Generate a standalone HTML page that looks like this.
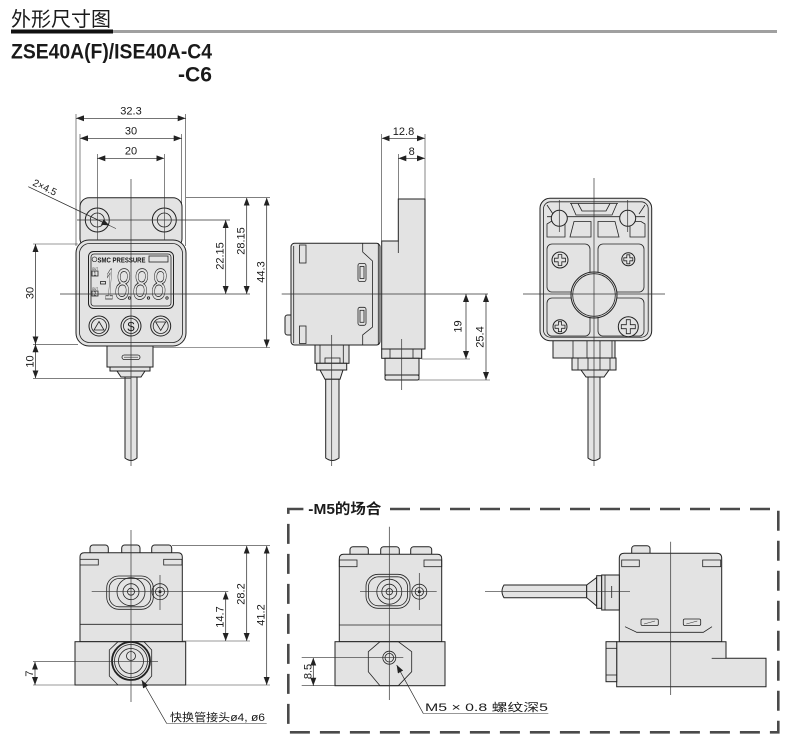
<!DOCTYPE html>
<html><head><meta charset="utf-8"><style>
html,body{margin:0;padding:0;background:#fff;width:790px;height:755px;overflow:hidden}
svg{display:block}
text{font-family:"Liberation Sans","Noto Sans CJK SC",sans-serif;fill:#1a1a1a}
.o{fill:#e3e3e3;stroke:#222;stroke-width:1}
.n{fill:none;stroke:#222;stroke-width:0.8}
.c{fill:none;stroke:#333;stroke-width:0.7}
.d{fill:none;stroke:#222;stroke-width:0.7;marker-start:url(#a);marker-end:url(#a)}
.l{fill:none;stroke:#222;stroke-width:0.7;marker-end:url(#a)}
.e{fill:none;stroke:#333;stroke-width:0.6}
.t{font-size:11px}
.lcd{fill:none;stroke:#222;stroke-width:0.8;font-style:italic}
</style></head><body>
<svg width="790" height="755" viewBox="0 0 790 755" xmlns="http://www.w3.org/2000/svg">
<defs>
<marker id="a" viewBox="0 0 8 6" refX="8" refY="3" markerWidth="8" markerHeight="6" markerUnits="userSpaceOnUse" orient="auto-start-reverse"><path d="M0,0 L8,3 L0,6 z" fill="#222"/></marker>
</defs>

<!-- Header -->
<text x="11" y="26" font-size="20" textLength="100" lengthAdjust="spacingAndGlyphs">外形尺寸图</text>
<rect x="11" y="29.5" width="102" height="4" fill="#111"/>
<rect x="113" y="30" width="664" height="3" fill="#a0a0a0"/>
<text x="11" y="58.5" font-size="21" font-weight="bold" textLength="201" lengthAdjust="spacingAndGlyphs">ZSE40A(F)/ISE40A-C4</text>
<text x="178" y="81.5" font-size="21" font-weight="bold" textLength="34" lengthAdjust="spacingAndGlyphs">-C6</text>

<!-- ===== FRONT VIEW ===== -->
<rect x="80" y="197.7" width="102" height="50" rx="9" class="o"/>
<circle cx="97.3" cy="220" r="12" class="o" stroke-width="1.5"/><circle cx="97.3" cy="220" r="7" class="n"/>
<circle cx="164.3" cy="220" r="12" class="o" stroke-width="1.5"/><circle cx="164.3" cy="220" r="7" class="n"/>
<!-- connector -->
<rect x="107" y="343" width="46" height="24" class="o"/>
<rect x="122" y="355" width="18" height="4.5" rx="2.2" class="n"/>
<line x1="124" y1="357.2" x2="138" y2="357.2" class="e"/>
<rect x="110" y="367" width="40" height="4" class="o"/>
<path d="M117,371 H145 L141,377 H121 Z" class="o"/>
<path d="M125,377 H137 V458 Q131,463 125,458 Z" class="o"/>
<!-- body -->
<rect x="76" y="240" width="110" height="106" rx="13" class="o"/>
<rect x="79.5" y="243.5" width="103" height="99" rx="10" class="n"/>
<!-- display -->
<rect x="88.5" y="251.5" width="85" height="57" rx="5" class="o"/>
<rect x="91" y="254" width="80" height="52" rx="3" class="n"/>
<circle cx="94.5" cy="259.3" r="2.4" fill="none" stroke="#222" stroke-width="0.6"/>
<text x="97.5" y="262.3" font-size="7.5" font-weight="bold" textLength="48" lengthAdjust="spacingAndGlyphs">SMC PRESSURE</text>
<rect x="149" y="256" width="19" height="6" class="n"/>
<text x="92" y="270" font-size="4" textLength="6" lengthAdjust="spacingAndGlyphs">OUT</text>
<rect x="92" y="271" width="6" height="5" class="n"/>
<text x="93.5" y="275.5" font-size="5">1</text>
<text x="92" y="290" font-size="4" textLength="6" lengthAdjust="spacingAndGlyphs">OUT</text>
<rect x="92" y="291" width="6" height="5" class="n"/>
<text x="93.5" y="295.5" font-size="5">2</text>
<rect x="100.5" y="281.5" width="5" height="2.5" class="n"/>
<text x="105" y="299" font-size="44" class="lcd" textLength="9" lengthAdjust="spacingAndGlyphs">1</text>
<text x="115" y="299" font-size="44" class="lcd" textLength="15" lengthAdjust="spacingAndGlyphs">8</text>
<text x="133" y="299" font-size="44" class="lcd" textLength="15" lengthAdjust="spacingAndGlyphs">8</text>
<text x="151.5" y="299" font-size="44" class="lcd" textLength="15" lengthAdjust="spacingAndGlyphs">8</text>
<circle cx="129.5" cy="298" r="1.2" class="n"/><circle cx="148.5" cy="298" r="1.2" class="n"/><circle cx="167" cy="298" r="1.2" class="n"/>
<!-- buttons -->
<circle cx="99" cy="326" r="10" class="o"/><circle cx="99" cy="326" r="7.5" class="n"/>
<path d="M99,321.5 L104,330 H94 Z" class="n"/>
<circle cx="131" cy="326" r="10" class="o"/><circle cx="131" cy="326" r="7.5" class="n"/>
<text x="131" y="331" font-size="13" text-anchor="middle">$</text>
<circle cx="160.7" cy="326" r="10" class="o"/><circle cx="160.7" cy="326" r="7.5" class="n"/>
<path d="M155.7,322 H165.7 L160.7,330.5 Z" class="n"/>
<!-- front centre lines -->
<line x1="131" y1="179" x2="131" y2="466" class="c"/>
<line x1="77" y1="220" x2="230" y2="220" class="c"/>
<line x1="60" y1="294" x2="250" y2="294" class="c"/>
<!-- front dims -->
<line x1="76" y1="114" x2="76" y2="246" class="e"/>
<line x1="185.7" y1="114" x2="185.7" y2="246" class="e"/>
<line x1="76" y1="118.3" x2="185.7" y2="118.3" class="d"/>
<text x="131" y="114.5" class="t" text-anchor="middle">32.3</text>
<line x1="80" y1="134" x2="80" y2="205" class="e"/>
<line x1="181.7" y1="134" x2="181.7" y2="205" class="e"/>
<line x1="80" y1="138.3" x2="181.7" y2="138.3" class="d"/>
<text x="131" y="134.5" class="t" text-anchor="middle">30</text>
<line x1="97.3" y1="154" x2="97.3" y2="240" class="e"/>
<line x1="164.3" y1="154" x2="164.3" y2="240" class="e"/>
<line x1="97.3" y1="158.3" x2="164.3" y2="158.3" class="d"/>
<text x="131" y="154.5" class="t" text-anchor="middle">20</text>
<line x1="28.3" y1="186.7" x2="109.5" y2="225.5" class="l"/>
<line x1="109.5" y1="225.5" x2="116" y2="228.6" class="e"/>
<text transform="translate(32,185) rotate(25.6)" font-size="10">2×4.5</text>
<line x1="186" y1="197.7" x2="270" y2="197.7" class="e"/>
<line x1="153" y1="347.5" x2="270" y2="347.5" class="e"/>
<line x1="225.7" y1="220" x2="225.7" y2="294" class="d"/>
<line x1="246.7" y1="197.7" x2="246.7" y2="294" class="d"/>
<line x1="266.7" y1="197.7" x2="266.7" y2="347.5" class="d"/>
<text transform="translate(223.5,256) rotate(-90)" class="t" text-anchor="middle">22.15</text>
<text transform="translate(244.5,241) rotate(-90)" class="t" text-anchor="middle">28.15</text>
<text transform="translate(264.5,272) rotate(-90)" class="t" text-anchor="middle">44.3</text>
<line x1="33" y1="244" x2="78" y2="244" class="e"/>
<line x1="33" y1="344.3" x2="78" y2="344.3" class="e"/>
<line x1="33" y1="378.3" x2="131" y2="378.3" class="e"/>
<line x1="35.5" y1="244" x2="35.5" y2="344.3" class="d"/>
<line x1="35.5" y1="344.3" x2="35.5" y2="378.3" class="d"/>
<text transform="translate(33.5,293) rotate(-90)" class="t" text-anchor="middle">30</text>
<text transform="translate(33.5,361.5) rotate(-90)" class="t" text-anchor="middle">10</text>

<!-- ===== SIDE VIEW ===== -->
<path d="M398.3,199 H425 V349 H381.7 V241 H398.3 Z" class="o"/>
<line x1="398.3" y1="241" x2="398.3" y2="253" class="n"/>
<rect x="285" y="315" width="8" height="20" rx="2.5" class="o"/>
<rect x="291" y="243.3" width="89" height="101.7" rx="3.5" class="o"/>
<line x1="293.7" y1="246" x2="293.7" y2="343" class="n"/>
<line x1="378.3" y1="243.3" x2="378.3" y2="345" class="n"/>
<rect x="299.5" y="245" width="6.5" height="18" class="n"/>
<rect x="299.5" y="326" width="6.5" height="17.5" class="n"/>
<polyline points="362.7,243.3 362.7,252 372.5,261 372.5,327 362.7,335 362.7,345" class="n"/>
<rect x="358" y="263.5" width="8" height="18" rx="2" class="n"/><rect x="360" y="266.5" width="4" height="12" class="n"/>
<rect x="358" y="307.3" width="8" height="18" rx="2" class="n"/><rect x="360" y="310.3" width="4" height="12" class="n"/>
<!-- side fitting -->
<rect x="381.7" y="349" width="40" height="9.3" class="o"/>
<line x1="390" y1="349" x2="390" y2="358.3" class="n"/><line x1="413" y1="349" x2="413" y2="358.3" class="n"/>
<rect x="385" y="358.3" width="34" height="16.7" class="o"/>
<rect x="385" y="375" width="34" height="5" rx="1.5" class="o"/>
<!-- side cable connector -->
<rect x="315" y="345" width="34" height="18.3" class="o"/>
<line x1="320" y1="345" x2="320" y2="363.3" class="n"/><line x1="343.3" y1="345" x2="343.3" y2="363.3" class="n"/>
<rect x="325" y="358" width="15" height="5.3" class="n"/>
<rect x="316.7" y="363.3" width="30" height="6.7" class="o"/>
<path d="M320,370 H343 L340,379.3 H325 Z" class="o"/>
<path d="M325.7,379.3 H339 V458 Q332.3,463 325.7,458 Z" class="o"/>
<line x1="331.7" y1="335" x2="331.7" y2="466" class="c"/>
<line x1="401.7" y1="339" x2="401.7" y2="390" class="c"/>
<line x1="281.7" y1="294" x2="488" y2="294" class="c"/>
<!-- side dims -->
<line x1="381.7" y1="134" x2="381.7" y2="241" class="e"/>
<line x1="398.3" y1="154" x2="398.3" y2="199" class="e"/>
<line x1="425" y1="134" x2="425" y2="199" class="e"/>
<line x1="381.7" y1="138.3" x2="425" y2="138.3" class="d"/>
<line x1="398.3" y1="158.3" x2="425" y2="158.3" class="d"/>
<text x="403.5" y="135" class="t" text-anchor="middle">12.8</text>
<text x="411.7" y="155" class="t" text-anchor="middle">8</text>
<line x1="421.7" y1="359" x2="470" y2="359" class="e"/>
<line x1="419" y1="380" x2="490" y2="380" class="e"/>
<line x1="466" y1="294" x2="466" y2="359" class="d"/>
<line x1="486" y1="294" x2="486" y2="380" class="d"/>
<text transform="translate(461.5,326.5) rotate(-90)" class="t" text-anchor="middle">19</text>
<text transform="translate(483.5,337) rotate(-90)" class="t" text-anchor="middle">25.4</text>

<!-- ===== BACK VIEW ===== -->
<rect x="553" y="338" width="62" height="20" class="o"/>
<line x1="573" y1="340.7" x2="573" y2="358" class="n"/><line x1="587" y1="340.7" x2="587" y2="358" class="n"/>
<line x1="600" y1="340.7" x2="600" y2="358" class="n"/><line x1="612" y1="340.7" x2="612" y2="358" class="n"/>
<rect x="572" y="358" width="44" height="12" class="o"/>
<line x1="578" y1="358" x2="578" y2="370" class="n"/><line x1="588" y1="358" x2="588" y2="370" class="n"/>
<line x1="600" y1="358" x2="600" y2="370" class="n"/><line x1="610" y1="358" x2="610" y2="370" class="n"/>
<path d="M581,370 H609 L604,377 H586 Z" class="o"/>
<path d="M588,377 H600 V458 Q594,463 588,458 Z" class="o"/>
<rect x="540" y="198.3" width="111.7" height="142.4" rx="10" class="o"/>
<rect x="543.5" y="201.8" width="104.7" height="135.4" rx="7" class="n"/>
<line x1="570" y1="203.5" x2="618" y2="203.5" class="n"/>
<polyline points="571,203.5 576,215 612,215 617,203.5" class="n"/>
<polyline points="578,203.5 582,211 606,211 610,203.5" class="n"/>
<path d="M547,205 L553,214" class="n"/><path d="M645,205 L639,214" class="n"/>
<line x1="547" y1="216.7" x2="645" y2="216.7" class="n"/>
<path d="M547,237 V224 L551,221.5 H565 V237 Z" class="n"/>
<path d="M574,221.5 H591 V237 H570 Z" class="n"/>
<path d="M598,221.5 H615 L619,237 H598 Z" class="n"/>
<path d="M630,221.5 H641 L645,224 V237 H630 Z" class="n"/>
<circle cx="559.3" cy="218.3" r="8" class="o"/>
<circle cx="627.7" cy="218.3" r="8" class="o"/>
<line x1="559.3" y1="200" x2="559.3" y2="232" class="c"/>
<line x1="627.7" y1="200" x2="627.7" y2="232" class="c"/>
<rect x="547" y="244" width="43" height="48" rx="5" class="n"/>
<rect x="598" y="244" width="46" height="48" rx="5" class="n"/>
<rect x="547" y="298" width="43" height="38" rx="5" class="n"/>
<rect x="598" y="298" width="46" height="38" rx="5" class="n"/>
<circle cx="594" cy="295" r="23" class="o"/>
<circle cx="594" cy="295" r="21.3" class="n"/>
<circle cx="560" cy="260" r="8" class="o"/>
<path d="M558.2,254.5 H561.8 V258.2 H565.5 V261.8 H561.8 V265.5 H558.2 V261.8 H554.5 V258.2 H558.2 Z" class="n"/>
<circle cx="628.3" cy="259.3" r="6.5" class="o"/>
<path d="M626.8,254.8 H629.8 V257.8 H632.8 V260.8 H629.8 V263.8 H626.8 V260.8 H623.8 V257.8 H626.8 Z" class="n"/>
<circle cx="560" cy="326.7" r="7" class="o"/>
<path d="M558.4,321.7 H561.6 V325.1 H565 V328.3 H561.6 V331.7 H558.4 V328.3 H555 V325.1 H558.4 Z" class="n"/>
<circle cx="628.3" cy="326.7" r="10" class="o"/>
<path d="M626.3,319.7 H630.3 V324.7 H635.3 V328.7 H630.3 V333.7 H626.3 V328.7 H621.3 V324.7 H626.3 Z" class="n"/>
<line x1="594" y1="178" x2="594" y2="466" class="c"/>
<line x1="523" y1="294" x2="665" y2="294" class="c"/>

<!-- ===== BOTTOM LEFT VIEW ===== -->
<rect x="90" y="545" width="18.3" height="10" rx="3" class="o"/>
<rect x="121.7" y="545" width="18.3" height="10" rx="3" class="o"/>
<rect x="151.7" y="545" width="20" height="10" rx="3" class="o"/>
<path d="M80,641.7 V557 Q80,552.7 84.3,552.7 H178 Q182.3,552.7 182.3,557 V641.7 Z" class="o"/>
<rect x="80" y="559.3" width="18.3" height="5.7" class="n"/>
<rect x="163.7" y="559.3" width="18.3" height="5.7" class="n"/>
<line x1="80" y1="624.3" x2="182.3" y2="624.3" class="n"/>
<rect x="106.7" y="576" width="46.6" height="33.3" rx="12" class="n"/>
<rect x="109.2" y="578.5" width="41.6" height="28.3" rx="10" class="n"/>
<circle cx="131" cy="591.7" r="14" class="n"/>
<circle cx="131" cy="591.7" r="8" class="n"/>
<circle cx="131" cy="591.7" r="3.5" class="n"/>
<circle cx="160" cy="591.7" r="8" class="n"/>
<circle cx="160" cy="591.7" r="4.5" class="n"/>
<circle cx="160" cy="591.7" r="1.5" fill="#222"/>
<rect x="75" y="641.7" width="110.7" height="43.3" class="o"/>
<path d="M118,641.7 H144 L151.7,650 V676 L144,685 H118 L109.3,676 V650 Z" class="n"/>
<circle cx="131" cy="661" r="19" fill="none" stroke="#222" stroke-width="1.8"/>
<circle cx="131" cy="661" r="16.5" class="n"/>
<circle cx="131" cy="661" r="12.5" class="n"/>
<circle cx="131" cy="656" r="4.5" class="n"/>
<line x1="131" y1="530" x2="131" y2="702" class="c"/>
<line x1="91.7" y1="591.7" x2="228.3" y2="591.7" class="c"/>
<line x1="160" y1="575" x2="160" y2="610" class="c"/>
<line x1="33" y1="661.7" x2="158" y2="661.7" class="c"/>
<line x1="33" y1="685" x2="75" y2="685" class="e"/>
<line x1="35" y1="661.7" x2="35" y2="685" class="d"/>
<text transform="translate(33,673.5) rotate(-90)" class="t" text-anchor="middle">7</text>
<line x1="172" y1="545.7" x2="270" y2="545.7" class="e"/>
<line x1="183" y1="641" x2="250" y2="641" class="e"/>
<line x1="185.7" y1="685" x2="270" y2="685" class="e"/>
<line x1="225.7" y1="591.7" x2="225.7" y2="641" class="d"/>
<line x1="246.7" y1="545.7" x2="246.7" y2="641" class="d"/>
<line x1="266.7" y1="545.7" x2="266.7" y2="685" class="d"/>
<text transform="translate(223.5,617) rotate(-90)" class="t" text-anchor="middle">14.7</text>
<text transform="translate(244.5,594) rotate(-90)" class="t" text-anchor="middle">28.2</text>
<text transform="translate(264.5,615) rotate(-90)" class="t" text-anchor="middle">41.2</text>
<line x1="166.7" y1="723.5" x2="141.7" y2="680" class="l"/>
<line x1="166.7" y1="723.5" x2="266.7" y2="723.5" class="e"/>
<text x="170" y="721" font-size="11" textLength="95" lengthAdjust="spacingAndGlyphs">快换管接头ø4, ø6</text>

<!-- ===== M5 BOX ===== -->
<path d="M390,509 H778.3 V732.3 H288.3 V509 H305" fill="none" stroke="#4a4a4a" stroke-width="2.6" stroke-dasharray="20 10"/>
<text x="308.3" y="514" font-size="14.5" font-weight="bold" textLength="73" lengthAdjust="spacingAndGlyphs">-M5的场合</text>

<!-- M5 left view -->
<rect x="350" y="546.7" width="18.3" height="10" rx="3" class="o"/>
<rect x="380.7" y="546.7" width="18.6" height="10" rx="3" class="o"/>
<rect x="410.7" y="546.7" width="21" height="10" rx="3" class="o"/>
<path d="M339.3,641.7 V558.6 Q339.3,554.3 343.6,554.3 H437.4 Q441.7,554.3 441.7,558.6 V641.7 Z" class="o"/>
<rect x="339.3" y="560" width="17.7" height="6.7" class="n"/>
<rect x="424" y="560" width="17.7" height="6.7" class="n"/>
<line x1="339.3" y1="625" x2="441.7" y2="625" class="n"/>
<rect x="366" y="574.3" width="44" height="34" rx="12" class="n"/>
<rect x="368.5" y="576.8" width="39" height="29" rx="10" class="n"/>
<circle cx="389.3" cy="591.7" r="12.5" class="n"/>
<circle cx="389.3" cy="591.7" r="7.5" class="n"/>
<circle cx="389.3" cy="591.7" r="3.2" class="n"/>
<circle cx="419.3" cy="591.7" r="7.5" class="n"/>
<circle cx="419.3" cy="591.7" r="4.2" class="n"/>
<circle cx="419.3" cy="591.7" r="1.5" fill="#222"/>
<rect x="335" y="641.7" width="110" height="44" class="o"/>
<path d="M380,641.7 H398.3 L411.7,651.7 V671.7 L398.3,685.7 H380 L368.3,671.7 V651.7 Z" class="n"/>
<circle cx="389.3" cy="657.7" r="6.5" class="n"/>
<circle cx="389.3" cy="657.7" r="4.3" class="n"/>
<line x1="389.3" y1="526.7" x2="389.3" y2="700" class="c"/>
<line x1="360" y1="591.7" x2="436.7" y2="591.7" class="c"/>
<line x1="419.3" y1="573" x2="419.3" y2="610" class="c"/>
<line x1="301.7" y1="657.7" x2="403.3" y2="657.7" class="c"/>
<line x1="301.7" y1="685.7" x2="335" y2="685.7" class="e"/>
<line x1="313.3" y1="657.7" x2="313.3" y2="685.7" class="d"/>
<text transform="translate(311.5,671.5) rotate(-90)" class="t" text-anchor="middle">8.5</text>
<line x1="423.3" y1="713.5" x2="396.7" y2="665" class="l"/>
<line x1="423.3" y1="713.5" x2="548.3" y2="713.5" class="e"/>
<text x="425" y="711" font-size="11" textLength="123" lengthAdjust="spacingAndGlyphs">M5 × 0.8 螺纹深5</text>

<!-- M5 right view -->
<rect x="631.7" y="545.7" width="18.3" height="10" rx="3" class="o"/>
<path d="M619.3,641.7 V558.3 Q619.3,553.3 624.3,553.3 H716.7 Q721.7,553.3 721.7,558.3 V641.7 Z" class="o"/>
<rect x="621.7" y="560" width="17.6" height="6.7" class="n"/>
<rect x="702.7" y="560" width="18" height="6.7" class="n"/>
<polyline points="625,626.7 636.7,632.3 703.3,632.3 712,626.7" class="n"/>
<rect x="641" y="619" width="17.3" height="6.5" rx="1.5" class="n"/>
<line x1="644" y1="624" x2="655" y2="621" class="e"/>
<rect x="683.3" y="619" width="17.4" height="6.5" rx="1.5" class="n"/>
<line x1="686.3" y1="624" x2="697.3" y2="621" class="e"/>
<path d="M504,585 H586.7 V597.7 H504 Q500,591.3 504,585 Z" class="o"/>
<path d="M586.7,585 L596.7,577.5 V606 L586.7,597.7 Z" class="o"/>
<rect x="596.7" y="575.7" width="5" height="32.6" class="o"/>
<rect x="601.7" y="575" width="17.6" height="35" class="o"/>
<line x1="605" y1="575" x2="605" y2="610" class="n"/>
<line x1="611.7" y1="586" x2="611.7" y2="598" class="n"/>
<path d="M616.7,641.7 H726 V658.3 H766 V686.7 H616.7 Z" class="o"/>
<line x1="711.7" y1="658.3" x2="726" y2="658.3" class="n"/>
<rect x="606" y="641.7" width="10.7" height="40" class="o"/>
<line x1="606" y1="648.3" x2="616.7" y2="648.3" class="n"/>
<line x1="606" y1="675" x2="616.7" y2="675" class="n"/>
<line x1="670.7" y1="541.7" x2="670.7" y2="695" class="c"/>
<line x1="485" y1="591.7" x2="630" y2="591.7" class="c"/>
</svg>
</body></html>
